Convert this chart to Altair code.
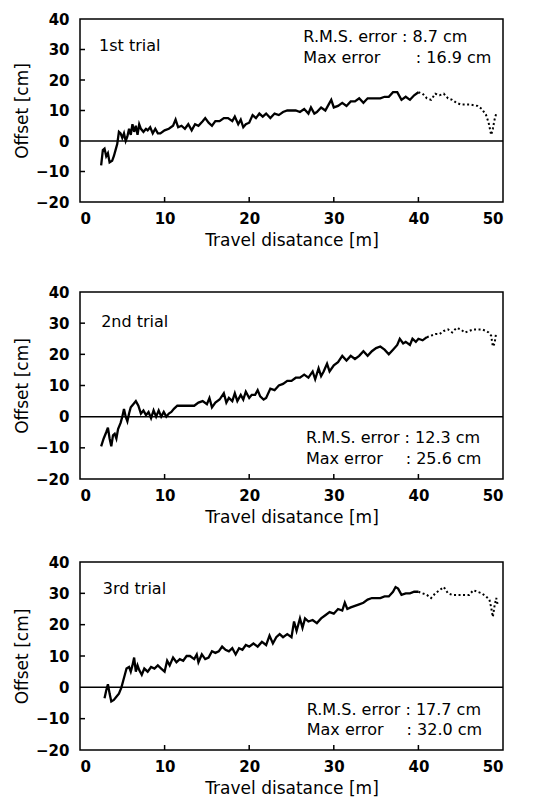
import altair as alt
import pandas as pd

# ---------------- data ----------------
t1_x = [2.5, 2.7, 2.9, 3.1, 3.3, 3.5, 3.8, 4.0, 4.2, 4.4, 4.6, 4.8, 5.0, 5.2, 5.4, 5.6, 5.8, 6.0,
        6.2, 6.4, 6.6, 6.8, 7.0, 7.2, 7.5, 7.8, 8.0, 8.3, 8.6, 8.9, 9.2, 9.5, 10.0, 10.5, 11.0,
        11.3, 11.6, 12.0, 12.4, 12.8, 13.2, 13.6, 14.0, 14.5, 14.8, 15.2, 15.6, 16.0, 16.5, 17.0,
        17.5, 18.0, 18.3, 18.7, 19.0, 19.3, 19.6, 20.0, 20.4, 20.8, 21.2, 21.6, 22.0, 22.5, 23.0,
        23.5, 24.0, 24.5, 25.0, 25.5, 26.0, 26.5, 27.0, 27.3, 27.7, 28.0, 28.5, 29.0, 29.4, 29.7,
        30.0, 30.5, 31.0, 31.5, 32.0, 32.5, 33.0, 33.5, 34.0, 34.5, 35.0, 35.5, 36.0, 36.5, 37.0,
        37.5, 38.0, 38.5, 39.0, 39.5, 40.0,
        40.5, 41.0, 41.5, 42.0, 42.5, 43.0, 43.5, 44.0, 44.5, 45.0, 46.0, 47.0, 47.5, 48.0, 48.3,
        48.6, 48.8, 49.0, 49.2]
t1_y = [-8, -3, -2.5, -5, -4, -7, -6.5, -5, -3, -1, 3, 2.5, 1, 2.5, 0, 1.5, 4, 2,
        5.5, 3, 5, 2, 5.5, 4, 3, 4, 3.5, 4.5, 2.5, 4, 2.5, 2.5, 3.5, 4, 5,
        7, 4.5, 5, 4, 5.5, 3.5, 5.5, 5, 6.5, 7.5, 6, 5, 6.5, 6.5, 7.5,
        7.5, 6.5, 8, 5.5, 7, 4.5, 5.5, 6, 8.5, 7.5, 9, 8, 9, 7.5, 9,
        8.5, 9.5, 10, 10, 10, 9.5, 10.5, 9, 11, 9, 9.5, 11, 10, 12, 13.5,
        11, 11.5, 12.5, 11.5, 13, 13, 14, 12.5, 14, 14, 14, 14, 14.5, 14.5, 16,
        16, 13.5, 14.5, 13.5, 15, 16,
        15.5, 14, 13.5, 15.5, 15, 15.5, 14, 13.5, 12.5, 12, 12, 11.5, 10.5, 8.5, 6,
        2, 4, 7, 9]

t2_x = [2.5, 2.8, 3.1, 3.3, 3.5, 3.7, 3.9, 4.1, 4.3, 4.5, 4.8, 5.0, 5.2, 5.4, 5.6, 5.8, 6.0,
        6.3, 6.6, 6.9, 7.2, 7.5, 7.8, 8.1, 8.4, 8.7, 9.0, 9.3, 9.6, 9.9, 10.2, 10.5, 10.8, 11.1,
        11.5, 12.0, 12.5, 13.0, 13.5, 14.0, 14.5, 15.0, 15.3, 15.6, 16.0, 16.5, 17.0, 17.3, 17.6,
        18.0, 18.3, 18.6, 19.0, 19.3, 19.6, 20.0, 20.3, 20.7, 21.0, 21.3, 21.7, 22.0, 22.5, 23.0,
        23.5, 24.0, 24.5, 25.0, 25.5, 26.0, 26.5, 27.0, 27.5, 27.8, 28.2, 28.5, 28.8, 29.2, 29.5,
        30.0, 30.5, 31.0, 31.5, 32.0, 32.5, 33.0, 33.5, 34.0, 34.5, 35.0, 35.5, 36.0, 36.5, 37.0,
        37.5, 37.8, 38.2, 38.5, 39.0, 39.3, 39.7, 40.0, 40.5, 41.0,
        41.5, 42.0, 42.5, 43.0, 43.5, 44.0, 44.5, 45.0, 45.5, 46.0, 46.5, 47.0, 47.5, 48.0, 48.3,
        48.6, 48.8, 49.0, 49.2]
t2_y = [-9.5, -7, -5, -3.5, -7, -9.5, -6, -5.5, -7, -4, -2, 0, 2.5, 0, -1.5, 1, 3,
        4, 5, 3.5, 1, 2, 0.5, 1.5, -0.5, 2, 0, 2, 0, 1.5, 0, 1, 1.5, 2.5,
        3.5, 3.5, 3.5, 3.5, 3.5, 4.5, 5, 4, 6, 3, 4.5, 5.5, 7.5, 4.5, 6,
        5, 7.5, 5, 7, 5.5, 8, 6, 7, 7, 8.5, 6.5, 5.5, 6, 9, 8.5,
        10, 10.5, 11.5, 11.5, 12.5, 12.5, 13.5, 12.5, 14.5, 12, 15.5, 13, 14.5, 17, 14.5,
        16.5, 17.5, 19.5, 18, 19.5, 18.5, 19.5, 21, 19.5, 21, 22, 22.5, 21.5, 20, 21.5,
        23, 25, 23.5, 24, 23, 25, 24, 25, 24.5, 25.5,
        26, 26.5, 26.5, 27.5, 28, 27, 28.5, 28, 27, 27.5, 28, 28, 28, 27.5, 27,
        26, 22.5, 23.5, 27]

t3_x = [2.9, 3.1, 3.3, 3.5, 3.7, 4.0, 4.3, 4.6, 4.9, 5.1, 5.3, 5.5, 5.8, 6.0, 6.2, 6.4, 6.6,
        6.8, 7.0, 7.3, 7.6, 8.0, 8.4, 8.8, 9.2, 9.6, 10.0, 10.3, 10.6, 11.0, 11.4, 11.8, 12.2,
        12.6, 13.0, 13.5, 13.8, 14.0, 14.4, 14.8, 15.2, 15.6, 16.0, 16.4, 16.8, 17.2, 17.6, 18.0,
        18.4, 18.8, 19.2, 19.6, 20.0, 20.5, 21.0, 21.5, 22.0, 22.4, 22.8, 23.2, 23.6, 24.0, 24.5,
        25.0, 25.3, 25.6, 26.0, 26.3, 26.6, 27.0, 27.5, 28.0, 28.5, 29.0, 29.5, 30.0, 30.5, 31.0,
        31.3, 31.6, 32.0, 32.5, 33.0, 33.5, 34.0, 34.5, 35.0, 35.5, 36.0, 36.5, 37.0, 37.3, 37.6,
        38.0, 38.5, 39.0, 39.5, 40.0,
        40.5, 41.0, 41.5, 42.0, 42.5, 43.0, 43.5, 44.0, 45.0, 46.0, 46.5, 47.0, 47.5, 48.0, 48.4,
        48.6, 48.8, 49.0, 49.2, 49.4]
t3_y = [-3.5, -1, 1, -2, -4.5, -4, -3, -2, 0, 2, 4, 6, 6.5, 5, 7, 9.5, 5,
        7, 5.5, 4, 6, 5, 6.5, 6, 7, 6, 5, 8.5, 7, 9.5, 8, 9, 8.5,
        10, 10, 9, 10.5, 8, 10.5, 9, 9.5, 11.5, 11, 11.5, 13, 12, 11.5, 12.5,
        10.5, 12.5, 12, 13.5, 13, 14, 13, 14.5, 13.5, 16.5, 14, 16, 17, 16, 17,
        16, 21, 18, 22, 19, 22, 21, 21.5, 20.5, 22, 23, 24, 23.5, 25, 24.5,
        27, 25, 25.5, 26, 26.5, 27, 28, 28.5, 28.5, 28.5, 29, 29, 30.5, 32, 31.5,
        29.5, 30, 30, 30.5, 30.5,
        30, 29.5, 28.5, 30, 31, 32, 30, 29.5, 29.5, 29.5, 31, 30.5, 30, 29, 28,
        25.5, 22.5, 26, 28.5, 26]

splits = [40.0, 41.0, 40.0]
trial_labels = ["1st trial", "2nd trial", "3rd trial"]
label_pos = [(2.25, 31.1), (2.5, 30.3), (2.7, 31.4)]
rms_text = ["R.M.S. error : 8.7 cm", "R.M.S. error : 12.3 cm", "R.M.S. error : 17.7 cm"]
max_text = [": 16.9 cm", ": 25.6 cm", ": 32.0 cm"]
rms_pos = [(26.4, 34.1), (26.7, -6.8), (26.8, -7.2)]
max_pos = [(26.4, 27.2), (26.7, -13.5), (26.8, -13.6)]
colon_x = [39.7, 38.5, 38.6]
heights = [183, 187, 188]

x_ticks = [0, 10, 20, 30, 40, 50]
y_ticks = [-20, -10, 0, 10, 20, 30, 40]

FONT = "DejaVu Sans"
W = 423

X_AXIS = alt.Axis(values=x_ticks, title="Travel disatance [m]")
Y_AXIS = alt.Axis(values=y_ticks, title="Offset [cm]")
XS = alt.Scale(domain=[0, 50], nice=False)
YS = alt.Scale(domain=[-20, 40], nice=False)


def X(f):
    return alt.X(f, type="quantitative", scale=XS, axis=X_AXIS)


def Y(f):
    return alt.Y(f, type="quantitative", scale=YS, axis=Y_AXIS)


def panel(xs, ys, i):
    h = heights[i]
    df = pd.DataFrame({"x": xs, "y": ys})
    solid = df[df.x <= splits[i]]
    dotted = df[df.x >= splits[i]]

    zero = alt.Chart(pd.DataFrame({"x": [0, 50], "y": [0, 0]})).mark_line(
        color="black", strokeWidth=1.5).encode(x=X("x"), y=Y("y"))
    line = alt.Chart(solid).mark_line(color="black", strokeWidth=2.3).encode(x=X("x"), y=Y("y"))
    dots = alt.Chart(dotted).mark_line(color="black", strokeWidth=2, strokeDash=[2, 2.5]).encode(
        x=X("x"), y=Y("y"))
    xt = alt.Chart(pd.DataFrame({"x": x_ticks[1:-1]})).mark_rule(color="black", strokeWidth=1.5).encode(
        x=X("x"), y=alt.value(h), y2=alt.value(h - 5))
    yt = alt.Chart(pd.DataFrame({"y": [v for v in y_ticks if v not in (-20, 0, 40)]})).mark_rule(
        color="black", strokeWidth=1.5).encode(y=Y("y"), x=alt.value(0), x2=alt.value(5))
    ann = pd.DataFrame({
        "x": [label_pos[i][0], rms_pos[i][0], max_pos[i][0], colon_x[i]],
        "y": [label_pos[i][1], rms_pos[i][1], max_pos[i][1], max_pos[i][1]],
        "t": [trial_labels[i], rms_text[i], "Max error", max_text[i]],
    })
    txt = alt.Chart(ann).mark_text(align="left", baseline="middle", fontSize=16, font=FONT,
                                   color="black").encode(x=X("x"), y=Y("y"), text="t:N")
    return alt.layer(zero, xt, yt, line, dots, txt).properties(width=W, height=h)


chart = alt.vconcat(
    alt.vconcat(panel(t1_x, t1_y, 0), panel(t2_x, t2_y, 1), spacing=35),
    panel(t3_x, t3_y, 2),
    spacing=28,
).properties(
    padding={"left": 4, "top": 3, "right": 5, "bottom": 5},
    background="white",
).configure_view(
    stroke="black", strokeWidth=1.5
).configure_axis(
    grid=False, domain=False, ticks=False,
    labelFont=FONT, labelFontSize=15, labelFontWeight="bold", labelColor="black",
    titleFont=FONT, titleFontSize=17, titleFontWeight="normal", titleColor="black",
).configure_axisX(
    labelPadding=9, titlePadding=6
).configure_axisY(
    labelPadding=11, titlePadding=4
)

chart.save("out.html", embed_options={"renderer": "svg", "actions": False})
